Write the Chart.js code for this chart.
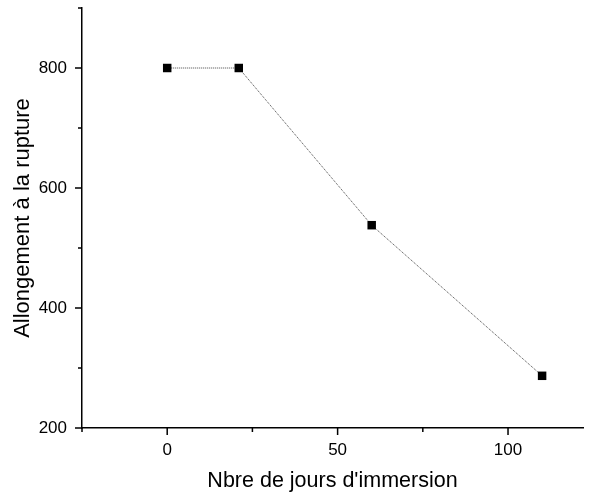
<!DOCTYPE html>
<html>
<head>
<meta charset="utf-8">
<script src="https://cdn.jsdelivr.net/npm/chart.js@4/dist/chart.umd.min.js"></script>
<style>
    body { margin: 0; background: #fff; }
</style>
</head>
<body>
<canvas id="myChart" width="589" height="495"></canvas>
<script>
/* Data */
const days = [0, 21, 60, 110];
const elongation = [800, 800, 538, 287];

/* Axis ticks */
const xMajorTicks = [0, 50, 100];
const xMinorTicks = [-25, 25, 75];
const yMajorTicks = [200, 400, 600, 800];
const yMinorTicks = [300, 500, 700, 900];

const xLabel = "Nbre de jours d'immersion";
const yLabel = "Allongement à la rupture";

const fontFamily = "'Liberation Sans', Arial, sans-serif";

// Draws outward tick marks (major + minor) using the scales
const tickMarks = {
    id: 'tickMarks',
    afterDraw(chart) {
        const ctx = chart.ctx;
        const x = chart.scales.x;
        const y = chart.scales.y;
        ctx.save();
        ctx.strokeStyle = '#000';
        ctx.lineWidth = 1.5;
        ctx.beginPath();
        xMajorTicks.forEach(v => {
            const px = x.getPixelForValue(v);
            ctx.moveTo(px, y.bottom);
            ctx.lineTo(px, y.bottom + 7);
        });
        xMinorTicks.forEach(v => {
            const px = x.getPixelForValue(v);
            ctx.moveTo(px, y.bottom);
            ctx.lineTo(px, y.bottom + 4);
        });
        yMajorTicks.forEach(v => {
            const py = y.getPixelForValue(v);
            ctx.moveTo(x.left, py);
            ctx.lineTo(x.left - 7, py);
        });
        yMinorTicks.forEach(v => {
            const py = y.getPixelForValue(v);
            ctx.moveTo(x.left, py);
            ctx.lineTo(x.left - 4, py);
        });
        ctx.stroke();
        ctx.restore();
    }
};

const ctx = document.getElementById('myChart');
new Chart(ctx, {
    type: 'scatter',
    data: {
        datasets: [{
            data: days.map((d, i) => ({ x: d, y: elongation[i] })),
            showLine: true,
            borderColor: '#444',
            borderWidth: 1,
            borderDash: [1, 1],
            pointStyle: 'rect',
            pointRadius: 6,
            pointBackgroundColor: '#000',
            pointBorderColor: '#000',
            pointBorderWidth: 0
        }]
    },
    options: {
        responsive: false,
        animation: false,
        layout: { padding: { top: 8, right: 0, left: 0, bottom: 0 } },
        plugins: {
            legend: { display: false },
            tooltip: { enabled: false }
        },
        scales: {
            x: {
                type: 'linear',
                min: -25,
                max: 122,
                afterFit: scale => {
                    scale.height = 67;
                    scale.paddingLeft = 0;
                    scale.paddingRight = 0;
                },
                afterBuildTicks: scale => { scale.ticks = xMajorTicks.map(v => ({ value: v })); },
                grid: { display: false, drawTicks: false },
                border: { display: true, color: '#000', width: 1.5 },
                ticks: {
                    padding: 12,
                    color: '#000',
                    font: { family: fontFamily, size: 17 }
                },
                title: {
                    display: true,
                    text: xLabel,
                    color: '#000',
                    font: { family: fontFamily, size: 21.5 },
                    padding: { top: 0, bottom: 1 }
                }
            },
            y: {
                min: 200,
                max: 900,
                afterFit: scale => {
                    scale.width = 82;
                    scale.paddingTop = 0;
                    scale.paddingBottom = 0;
                },
                afterBuildTicks: scale => { scale.ticks = yMajorTicks.map(v => ({ value: v })); },
                grid: { display: false, drawTicks: false },
                border: { display: true, color: '#000', width: 1.5 },
                ticks: {
                    padding: 15,
                    color: '#000',
                    font: { family: fontFamily, size: 17 }
                },
                title: {
                    display: true,
                    text: yLabel,
                    color: '#000',
                    font: { family: fontFamily, size: 22 },
                    padding: { top: 10, bottom: 0 }
                }
            }
        }
    },
    plugins: [tickMarks]
});
</script>
</body>
</html>
